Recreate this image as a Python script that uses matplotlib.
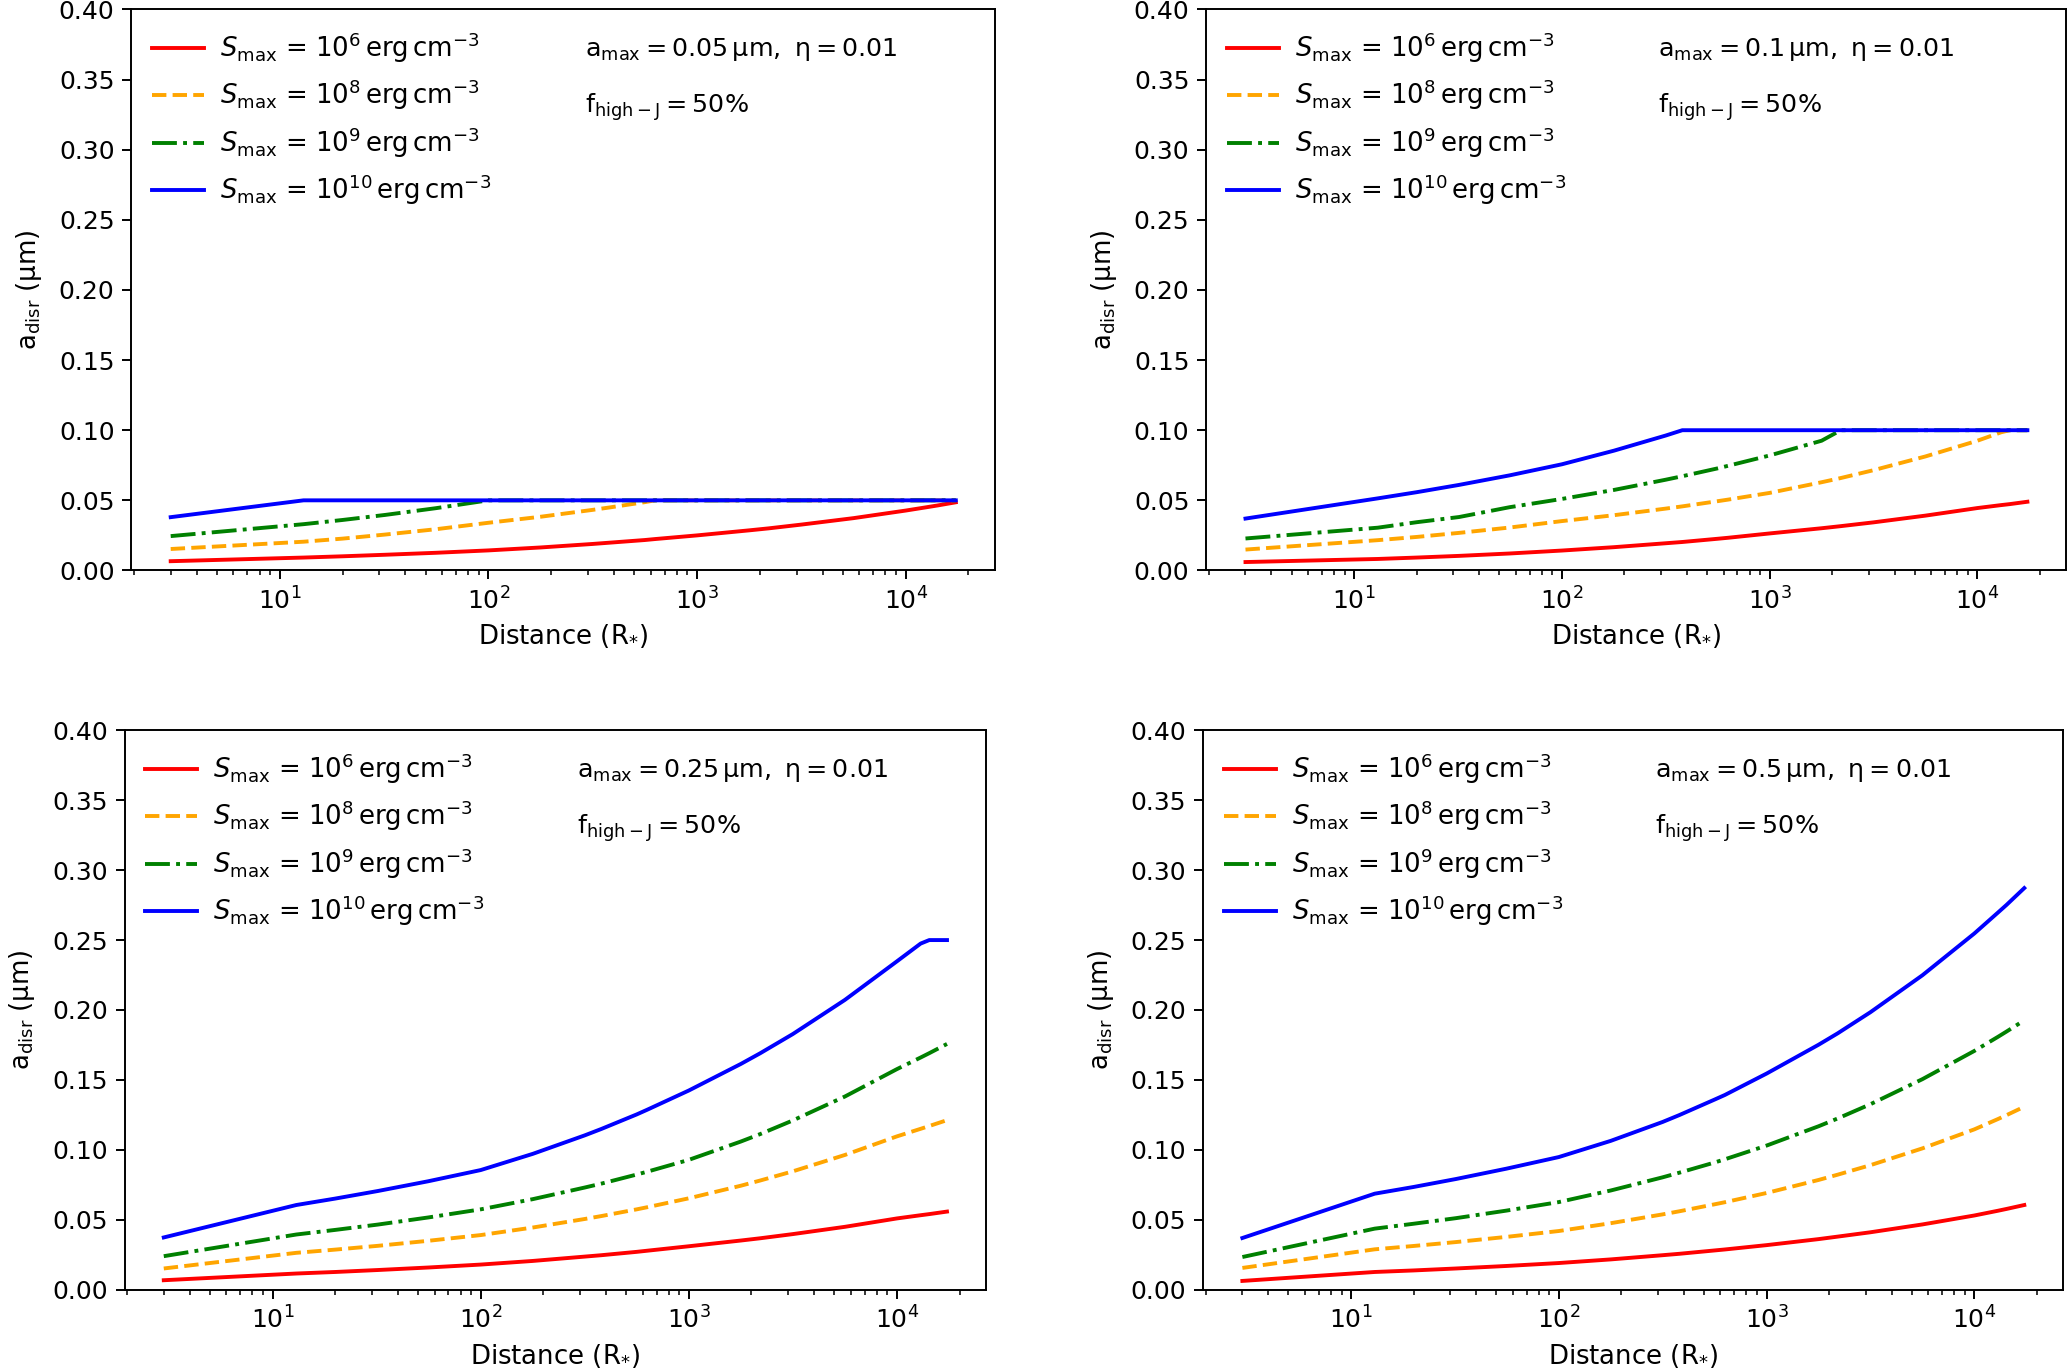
import numpy as np
import matplotlib
matplotlib.use('Agg')
import matplotlib.pyplot as plt

# --- data ---
distance = [3, 13, 20, 32, 56, 100, 178, 316, 380, 562, 630, 1000,
            1778, 2200, 3162, 5623, 10000, 13000, 14300, 17400]

s_labels = [r'$S_{\rm max}$ = $10^{6}\,\rm erg\,cm^{-3}$',
            r'$S_{\rm max}$ = $10^{8}\,\rm erg\,cm^{-3}$',
            r'$S_{\rm max}$ = $10^{9}\,\rm erg\,cm^{-3}$',
            r'$S_{\rm max}$ = $10^{10}\,\rm erg\,cm^{-3}$']

amax_texts = ['0.05', '0.1', '0.25', '0.5']

# a_max = 0.05 um
a005_s6 = [0.0066, 0.0092, 0.0101, 0.0112, 0.0126, 0.0143, 0.0164, 0.0189, 0.0198, 0.0217, 0.0224, 0.0250,
           0.0286, 0.0300, 0.0327, 0.0373, 0.0427, 0.0454, 0.0464, 0.0486]
a005_s8 = [0.0153, 0.0205, 0.0227, 0.0256, 0.0294, 0.0340, 0.0383, 0.0432, 0.0449, 0.0487, 0.05, 0.05,
           0.05, 0.05, 0.05, 0.05, 0.05, 0.05, 0.05, 0.05]
a005_s9 = [0.0245, 0.0330, 0.0360, 0.0396, 0.0444, 0.05, 0.05, 0.05, 0.05, 0.05, 0.05, 0.05,
           0.05, 0.05, 0.05, 0.05, 0.05, 0.05, 0.05, 0.05]
a005_s10 = [0.0380, 0.05, 0.05, 0.05, 0.05, 0.05, 0.05, 0.05, 0.05, 0.05, 0.05, 0.05,
            0.05, 0.05, 0.05, 0.05, 0.05, 0.05, 0.05, 0.05]

# a_max = 0.1 um
a01_s6 = [0.0060, 0.0082, 0.0092, 0.0104, 0.0121, 0.0142, 0.0166, 0.0194, 0.0203, 0.0226, 0.0233, 0.0264,
          0.0301, 0.0316, 0.0343, 0.0391, 0.0445, 0.0466, 0.0473, 0.0490]
a01_s8 = [0.0149, 0.0216, 0.0239, 0.0268, 0.0306, 0.0352, 0.0394, 0.0441, 0.0457, 0.0494, 0.0505, 0.0553,
          0.0629, 0.0659, 0.0715, 0.0813, 0.0925, 0.0985, 0.10, 0.10]
a01_s9 = [0.0228, 0.0305, 0.0344, 0.0381, 0.0451, 0.0510, 0.0574, 0.0647, 0.0672, 0.0728, 0.0746, 0.0820,
          0.0925, 0.10, 0.10, 0.10, 0.10, 0.10, 0.10, 0.10]
a01_s10 = [0.0370, 0.0514, 0.0558, 0.0610, 0.0678, 0.0757, 0.0854, 0.0962, 0.10, 0.10, 0.10, 0.10,
           0.10, 0.10, 0.10, 0.10, 0.10, 0.10, 0.10, 0.10]

# a_max = 0.25 um
a025_s6 = [0.0067, 0.0115, 0.0126, 0.0140, 0.0158, 0.0179, 0.0205, 0.0236, 0.0246, 0.0270, 0.0278, 0.0310,
           0.0351, 0.0367, 0.0397, 0.0449, 0.0509, 0.0532, 0.0540, 0.0558]
a025_s8 = [0.0151, 0.0263, 0.0286, 0.0313, 0.0349, 0.0390, 0.0444, 0.0505, 0.0526, 0.0574, 0.0589, 0.0653,
           0.0743, 0.0780, 0.0846, 0.0963, 0.1096, 0.1150, 0.1170, 0.1212]
a025_s9 = [0.0239, 0.0394, 0.0427, 0.0465, 0.0516, 0.0574, 0.0647, 0.0730, 0.0758, 0.0823, 0.0843, 0.0928,
           0.1059, 0.1112, 0.1210, 0.1381, 0.1577, 0.1660, 0.1691, 0.1757]
a025_s10 = [0.0373, 0.0605, 0.0651, 0.0705, 0.0775, 0.0855, 0.0971, 0.1103, 0.1149, 0.1253, 0.1286, 0.1424,
            0.1614, 0.1690, 0.1828, 0.2072, 0.2348, 0.2475, 0.25, 0.25]

# a_max = 0.5 um
a05_s6 = [0.0062, 0.0126, 0.0137, 0.0151, 0.0169, 0.0190, 0.0216, 0.0246, 0.0256, 0.0280, 0.0287, 0.0318,
          0.0361, 0.0379, 0.0410, 0.0466, 0.0530, 0.0564, 0.0577, 0.0605]
a05_s8 = [0.0155, 0.0288, 0.0312, 0.0340, 0.0377, 0.0419, 0.0475, 0.0538, 0.0560, 0.0610, 0.0625, 0.0691,
          0.0784, 0.0822, 0.0890, 0.1010, 0.1146, 0.1220, 0.1248, 0.1308]
a05_s9 = [0.0233, 0.0436, 0.0471, 0.0511, 0.0565, 0.0626, 0.0709, 0.0803, 0.0836, 0.0909, 0.0932, 0.1030,
          0.1168, 0.1224, 0.1326, 0.1505, 0.1707, 0.1808, 0.1846, 0.1926]
a05_s10 = [0.0369, 0.0686, 0.0734, 0.0791, 0.0865, 0.0948, 0.1064, 0.1199, 0.1248, 0.1359, 0.1392, 0.1545,
           0.1751, 0.1833, 0.1984, 0.2248, 0.2547, 0.2697, 0.2752, 0.2872]

panels = [
    [a005_s6, a005_s8, a005_s9, a005_s10],
    [a01_s6, a01_s8, a01_s9, a01_s10],
    [a025_s6, a025_s8, a025_s9, a025_s10],
    [a05_s6, a05_s8, a05_s9, a05_s10],
]

colors = ['red', 'orange', 'green', 'blue']
styles = ['-', '--', '-.', '-']

# axes placement in figure fraction (left, bottom, width, height)
positions = [
    [0.0635, 0.5833, 0.4172, 0.4098],
    [0.5828, 0.5833, 0.4155, 0.4098],
    [0.0602, 0.0580, 0.4162, 0.4085],
    [0.5813, 0.0580, 0.4155, 0.4085],
]

plt.rcParams['font.size'] = 18.7
plt.rcParams['xtick.labelsize'] = 18
plt.rcParams['ytick.labelsize'] = 18
plt.rcParams['axes.linewidth'] = 1.4
plt.rcParams['xtick.major.size'] = 6.2
plt.rcParams['xtick.minor.size'] = 3.5
plt.rcParams['ytick.major.size'] = 6.2
plt.rcParams['xtick.major.width'] = 1.4
plt.rcParams['xtick.minor.width'] = 1.1
plt.rcParams['ytick.major.width'] = 1.4
plt.rcParams['xtick.major.pad'] = 6
plt.rcParams['ytick.major.pad'] = 6

fig = plt.figure(figsize=(20.7, 13.69), dpi=100)

for pos, curves, amax in zip(positions, panels, amax_texts):
    ax = fig.add_axes(pos)
    for y, c, ls, lab in zip(curves, colors, styles, s_labels):
        ax.plot(distance, y, color=c, linestyle=ls, linewidth=2.8, label=lab)
    ax.set_xscale('log')
    ax.set_ylim(0, 0.40)
    ticks = np.arange(0, 0.41, 0.05)
    ax.set_yticks(ticks)
    ax.set_yticklabels(['%.2f' % v for v in ticks])
    ax.set_xlabel(r'Distance (R$_{*}$)', labelpad=6)
    ax.set_ylabel(r'a$_{\rm disr}$ (μm)', labelpad=10.5)
    ax.legend(loc='upper left', frameon=False, handlelength=2.0,
              handletextpad=0.6, borderaxespad=0.4)
    ax.text(0.525, 0.928, r'$\rm a_{max} = ' + amax + r'\,μm,\ η = 0.01$',
            transform=ax.transAxes, va='center', ha='left', fontsize=18.3)
    ax.text(0.525, 0.826, r'$\rm f_{high-J} = 50\%$',
            transform=ax.transAxes, va='center', ha='left', fontsize=18.3)

fig.savefig('out.png', dpi=100)
